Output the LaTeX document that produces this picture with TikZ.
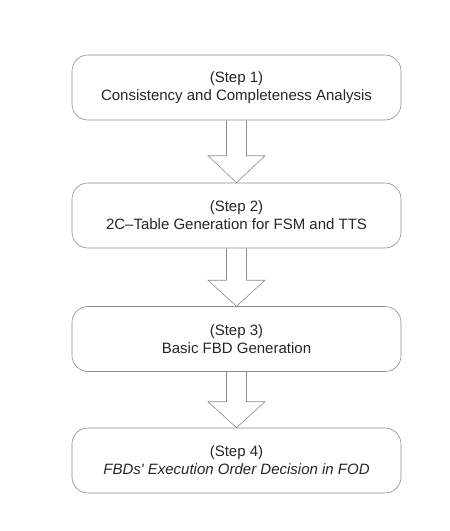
\documentclass[tikz,border=0pt]{standalone}
\usepackage{fontspec}
\setmainfont{Liberation Sans}
\usetikzlibrary{calc}
\begin{document}
\begin{tikzpicture}[x=1pt,y=-1pt,
  stepbox/.style={draw=black!45, line width=0.6pt, rounded corners=16pt,
    minimum width=329pt, minimum height=65pt, inner sep=0pt, align=center,
    font=\fontsize{15}{18}\selectfont, text=black!85},
  blockarr/.style={draw=black!45, line width=0.6pt, line join=miter}]
\useasboundingbox (0,0) rectangle (450,531);
\node[stepbox] (b1) at (236.5,87.5) {(Step 1)\\Consistency and Completeness Analysis};
\node[stepbox] (b2) at (236.5,215.5) {(Step 2)\\2C{\textendash}Table Generation for FSM and TTS};
\node[stepbox] (b3) at (236.5,339) {(Step 3)\\Basic FBD Generation};
\node[stepbox] (b4) at (236.5,460.5) {(Step 4)\\\itshape FBDs\textquotesingle\ Execution Order Decision in FOD};
\foreach \a/\b/\h in {b1/b2/27, b2/b3/26, b3/b4/26}{
  \draw[blockarr] ([xshift=-10pt]\a.south) -- ($(\b.north)+(-10,-\h)$)
    -- ($(\b.north)+(-28.5,-\h)$) -- (\b.north) -- ($(\b.north)+(28.5,-\h)$)
    -- ($(\b.north)+(10,-\h)$) -- ([xshift=10pt]\a.south);
}
\end{tikzpicture}
\end{document}
